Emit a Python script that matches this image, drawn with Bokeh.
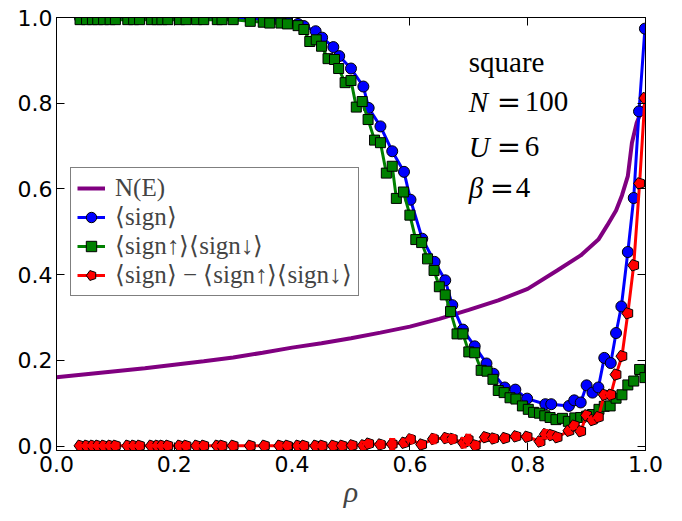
import math
from bokeh.plotting import figure
from bokeh.models import (ColumnDataSource, Legend, LegendItem, LinearAxis, Label,
                          Whisker, TeeHead, Range1d, FixedTicker, NumeralTickFormatter,
                          CustomJSTickFormatter)
from bokeh.embed import file_html
from bokeh.resources import INLINE

# density of states N(E) against filling
rho_dos = [0.0, 0.05, 0.1, 0.15, 0.2, 0.25, 0.3, 0.35, 0.4, 0.45, 0.5, 0.55, 0.6, 0.65,
           0.7, 0.75, 0.8, 0.85, 0.89, 0.92, 0.935, 0.95, 0.96, 0.97, 0.977, 0.985, 0.994, 1.0]
dos = [0.161, 0.168, 0.175, 0.182, 0.190, 0.198, 0.207, 0.218, 0.230, 0.240, 0.252, 0.265, 0.279, 0.297,
       0.318, 0.340, 0.367, 0.410, 0.445, 0.482, 0.515, 0.550, 0.585, 0.630, 0.708, 0.754, 0.785, 0.796]

# <sign>
rho_sign = [0.040, 0.051, 0.061, 0.070, 0.080, 0.091, 0.100, 0.121, 0.131, 0.141, 0.161, 0.171,
            0.179, 0.189, 0.209, 0.220, 0.238, 0.250, 0.273, 0.281, 0.300, 0.329, 0.353, 0.379,
            0.392, 0.410, 0.420, 0.440, 0.451, 0.470, 0.480, 0.500, 0.521, 0.530, 0.550, 0.570,
            0.590, 0.601, 0.621, 0.642, 0.660, 0.672, 0.690, 0.710, 0.730, 0.742, 0.761, 0.779,
            0.799, 0.830, 0.840, 0.870, 0.879, 0.890, 0.900, 0.910, 0.920, 0.930, 0.941, 0.950,
            0.959, 0.970, 0.980, 0.989, 0.999]
sign = [0.999, 0.999, 0.999, 0.999, 0.999, 0.999, 0.999, 0.999, 0.999, 0.999, 0.999, 0.999,
        0.999, 0.999, 0.999, 0.999, 0.999, 0.999, 0.999, 0.999, 0.999, 0.997, 0.996, 0.993,
        0.990, 0.985, 0.980, 0.968, 0.953, 0.931, 0.910, 0.881, 0.839, 0.789, 0.746, 0.688,
        0.640, 0.575, 0.484, 0.430, 0.387, 0.329, 0.272, 0.233, 0.193, 0.169, 0.137, 0.132,
        0.111, 0.098, 0.098, 0.094, 0.107, 0.102, 0.142, 0.125, 0.137, 0.206, 0.194, 0.264,
        0.326, 0.453, 0.579, 0.781, 0.974]

# <sign_up><sign_dn>
rho_prod = [0.040, 0.051, 0.061, 0.070, 0.080, 0.091, 0.100, 0.121, 0.131, 0.141, 0.161, 0.171,
            0.179, 0.189, 0.209, 0.220, 0.238, 0.250, 0.273, 0.281, 0.300,
            0.329, 0.351, 0.362, 0.381, 0.392, 0.410, 0.420, 0.430, 0.441, 0.450,
            0.461, 0.472, 0.479, 0.490, 0.500, 0.509, 0.519, 0.529, 0.540, 0.550,
            0.560, 0.570, 0.577, 0.589, 0.600, 0.610, 0.620, 0.630, 0.641, 0.650,
            0.660, 0.669, 0.680, 0.690, 0.700, 0.710, 0.721, 0.731, 0.741, 0.750,
            0.760, 0.770, 0.780, 0.791, 0.801, 0.810, 0.820, 0.829, 0.838, 0.848,
            0.859, 0.869, 0.880, 0.890, 0.900, 0.910, 0.921, 0.930, 0.940, 0.950,
            0.960, 0.970, 0.980, 0.990, 0.999]
prod = [0.995, 0.995, 0.995, 0.995, 0.995, 0.995, 0.995, 0.995, 0.995, 0.995, 0.995, 0.995,
        0.995, 0.995, 0.995, 0.995, 0.995, 0.995, 0.995, 0.995, 0.995,
        0.991, 0.989, 0.987, 0.987, 0.985, 0.981, 0.972, 0.944, 0.948, 0.933,
        0.904, 0.902, 0.881, 0.848, 0.853, 0.791, 0.804, 0.762, 0.714, 0.708,
        0.637, 0.653, 0.578, 0.593, 0.539, 0.482, 0.475, 0.437, 0.410, 0.372,
        0.353, 0.314, 0.262, 0.262, 0.220, 0.218, 0.177, 0.175, 0.156, 0.130,
        0.125, 0.113, 0.110, 0.094, 0.086, 0.079, 0.077, 0.071, 0.067, 0.062,
        0.065, 0.058, 0.066, 0.067, 0.070, 0.074, 0.086, 0.093, 0.094, 0.112,
        0.120, 0.143, 0.152, 0.179, 0.160]

# <sign> - <sign_up><sign_dn>
rho_diff = [0.040, 0.051, 0.061, 0.070, 0.080, 0.091, 0.100, 0.121, 0.131, 0.141, 0.161, 0.171,
            0.179, 0.189, 0.209, 0.220, 0.238, 0.250, 0.273, 0.281, 0.300, 0.329, 0.353, 0.379,
            0.392, 0.410, 0.420, 0.440, 0.451, 0.470, 0.485,
            0.502, 0.521, 0.530, 0.550, 0.570, 0.590, 0.601, 0.620, 0.640, 0.661,
            0.672, 0.691, 0.699, 0.711, 0.728, 0.742, 0.761, 0.780, 0.799, 0.821,
            0.830, 0.840, 0.850, 0.870, 0.879, 0.890, 0.900, 0.910, 0.920, 0.930,
            0.941, 0.950, 0.960, 0.970, 0.980, 0.990, 0.999]
diff = [0.001, 0.001, 0.001, 0.001, 0.001, 0.001, 0.001, 0.001, 0.001, 0.001, 0.001, 0.001,
        0.001, 0.001, 0.001, 0.001, 0.001, 0.001, 0.001, 0.001, 0.001, 0.001, 0.001, 0.001,
        0.001, 0.001, 0.001, 0.001, 0.001, 0.001, 0.001,
        0.002, 0.002, 0.006, 0.004, 0.005, 0.008, 0.016, 0.004, 0.017, 0.019,
        0.017, 0.008, 0.015, 0.002, 0.021, 0.018, 0.019, 0.023, 0.022, 0.011,
        0.028, 0.026, 0.021, 0.036, 0.048, 0.035, 0.072, 0.061, 0.068, 0.120,
        0.120, 0.167, 0.210, 0.310, 0.422, 0.613, 0.812]
diff_err = [0.002, 0.002, 0.002, 0.002, 0.002, 0.002, 0.002, 0.002, 0.002, 0.002, 0.002, 0.002,
            0.002, 0.002, 0.002, 0.002, 0.002, 0.002, 0.002, 0.002, 0.002, 0.002, 0.002, 0.002,
            0.002, 0.002, 0.002, 0.003, 0.003, 0.003, 0.004,
            0.006, 0.008, 0.007, 0.008, 0.012, 0.007, 0.009, 0.006, 0.010, 0.008,
            0.009, 0.011, 0.012, 0.007, 0.006, 0.008, 0.006, 0.007, 0.006, 0.008,
            0.010, 0.007, 0.006, 0.005, 0.005, 0.004, 0.004, 0.004, 0.004, 0.004,
            0.004, 0.004, 0.004, 0.004, 0.004, 0.004, 0.004]

ticks = [0.0, 0.2, 0.4, 0.6, 0.8, 1.0]

SERIF = "Liberation Serif"
SANS = "DejaVu Sans"

p = figure(width=666, height=510, x_range=Range1d(0, 1), y_range=Range1d(-0.01, 1.0),
           output_backend="svg", toolbar_location=None, tools="",
           min_border_left=56, min_border_top=17, min_border_right=21, min_border_bottom=58)
p.xgrid.visible = False
p.ygrid.visible = False
p.outline_line_color = "black"
p.outline_line_width = 1
p.background_fill_color = "white"
p.border_fill_color = "white"


def style_axis(ax, labels=True):
    ax.ticker = FixedTicker(ticks=ticks)
    ax.axis_line_color = "black"
    ax.major_tick_in = 8
    ax.major_tick_out = 0
    ax.major_tick_line_color = "black"
    ax.minor_tick_line_color = None
    if labels:
        ax.formatter = NumeralTickFormatter(format="0.0")
        ax.major_label_text_font = SANS
        ax.major_label_text_font_size = "22px"
        ax.major_label_text_color = "black"
    else:
        ax.formatter = CustomJSTickFormatter(code="return ''")
        ax.major_label_standoff = 0


style_axis(p.xaxis[0])
style_axis(p.yaxis[0])
p.xaxis.major_label_standoff = 5
p.yaxis.major_label_standoff = 4
p.xaxis.axis_label = "ρ"
p.xaxis.axis_label_text_font = SERIF
p.xaxis.axis_label_text_font_style = "italic"
p.xaxis.axis_label_text_font_size = "30px"
p.xaxis.axis_label_standoff = 0

top_ax = LinearAxis()
style_axis(top_ax, labels=False)
p.add_layout(top_ax, "above")
right_ax = LinearAxis()
style_axis(right_ax, labels=False)
p.add_layout(right_ax, "right")

src_sign = ColumnDataSource(dict(x=rho_sign, y=sign))
src_prod = ColumnDataSource(dict(x=rho_prod, y=prod))
src_diff = ColumnDataSource(dict(x=rho_diff, y=diff,
                                 lo=[v - e for v, e in zip(diff, diff_err)],
                                 hi=[v + e for v, e in zip(diff, diff_err)]))

r_dos = p.line(rho_dos, dos, line_color="#800080", line_width=4)

bl = p.line("x", "y", source=src_sign, line_color="#0000ff", line_width=3)
bs = p.scatter("x", "y", source=src_sign, marker="circle", size=11,
               fill_color="#0000ff", line_color="black", line_width=1)

gl = p.line("x", "y", source=src_prod, line_color="#008000", line_width=3)
gs = p.scatter("x", "y", source=src_prod, marker="square", size=10,
               fill_color="#008000", line_color="black", line_width=1)

whisk = Whisker(source=src_diff, base="x", lower="lo", upper="hi", dimension="height",
                line_color="#ff0000", line_width=2,
                upper_head=TeeHead(size=6, line_color="#ff0000", line_width=2),
                lower_head=TeeHead(size=6, line_color="#ff0000", line_width=2))
whisk.level = "glyph"
p.add_layout(whisk)
rl = p.line("x", "y", source=src_diff, line_color="#ff0000", line_width=3)
if hasattr(p, "ngon"):
    rs = p.ngon("x", "y", source=src_diff, radius=6, radius_units="screen", n=5,
                angle=math.pi / 2, fill_color="#ff0000", line_color="black", line_width=1)
else:
    rs = p.scatter("x", "y", source=src_diff, marker="hex", size=10,
                   fill_color="#ff0000", line_color="black", line_width=1)

legend = Legend(items=[
    LegendItem(label="N(E)", renderers=[r_dos]),
    LegendItem(label="⟨sign⟩", renderers=[bl, bs]),
    LegendItem(label="⟨sign↑⟩⟨sign↓⟩", renderers=[gl, gs]),
    LegendItem(label="⟨sign⟩ − ⟨sign↑⟩⟨sign↓⟩", renderers=[rl, rs]),
], location=(14, 154))
legend.label_text_font = SERIF
legend.label_text_font_size = "25px"
legend.label_height = 26
legend.glyph_height = 26
legend.glyph_width = 28
legend.label_standoff = 10
legend.spacing = 0
legend.padding = 6
legend.margin = 0
legend.border_line_color = "black"
legend.border_line_width = 1
legend.background_fill_alpha = 1.0
p.add_layout(legend)

# parameter block, top right
TXT = dict(text_font=SERIF, text_font_size="29px", text_color="black", text_baseline="alphabetic")
p.add_layout(Label(x=0.700, y=0.8965, text="square", **TXT))
params = [("N", "100", 0.804, 40, 56), ("U", "6", 0.698, 40, 56), ("β", "4", 0.603, 33, 47)]
for var, val, yy, eq_off, val_off in params:
    p.add_layout(Label(x=0.700, y=yy, text=var, text_font_style="italic", **TXT))
    p.add_layout(Label(x=0.700, y=yy, x_offset=eq_off, text="=", text_align="center",
                       text_font="DejaVu Serif", text_font_size="29px", text_color="black",
                       text_baseline="alphabetic"))
    p.add_layout(Label(x=0.700, y=yy, x_offset=val_off, text=val, **TXT))

open("out.html", "w").write(file_html(p, INLINE))
